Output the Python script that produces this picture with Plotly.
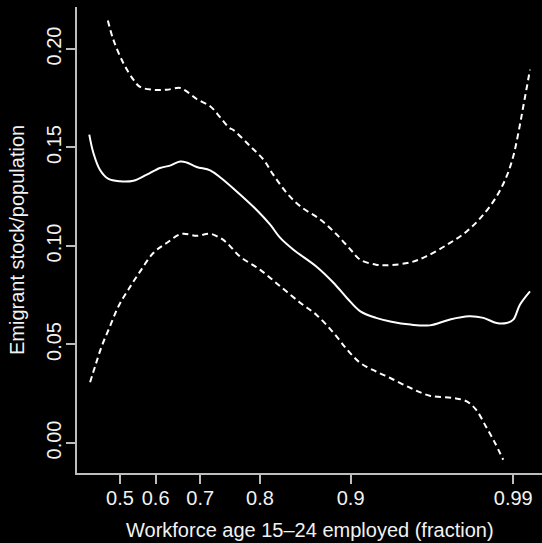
import numpy as np
import plotly.graph_objects as go

# ---- data (fraction employed vs emigrant stock/population) ----
fit_x = [0.396, 0.411, 0.434, 0.463, 0.500, 0.540, 0.577, 0.611, 0.635, 0.658, 0.672,
         0.693, 0.719, 0.737, 0.765, 0.795, 0.814, 0.827, 0.843, 0.868, 0.885, 0.897,
         0.908, 0.920, 0.930, 0.943, 0.954, 0.964, 0.973, 0.979, 0.9841, 0.9877,
         0.9900, 0.9922, 0.9954]
fit_y = [0.1565, 0.1472, 0.1387, 0.1340, 0.1328, 0.1331, 0.1362, 0.1396, 0.1408, 0.1429,
         0.1424, 0.1401, 0.1384, 0.1349, 0.1277, 0.1184, 0.1108, 0.1041, 0.0981, 0.0896,
         0.0812, 0.0735, 0.0668, 0.0635, 0.0617, 0.0601, 0.0597, 0.0626, 0.0643, 0.0635,
         0.0609, 0.0609, 0.0626, 0.0702, 0.0770]

upper_x = [0.461, 0.479, 0.510, 0.540, 0.559, 0.594, 0.627, 0.658, 0.672, 0.693, 0.719,
           0.737, 0.753, 0.759, 0.786, 0.805, 0.818, 0.835, 0.851, 0.872, 0.888, 0.900,
           0.908, 0.920, 0.928, 0.943, 0.952, 0.963, 0.972, 0.979, 0.9841, 0.9877,
           0.9900, 0.9917, 0.9933, 0.9954]
upper_y = [0.2145, 0.2047, 0.1929, 0.1844, 0.1807, 0.1793, 0.1793, 0.1802, 0.1785, 0.1746,
           0.1709, 0.1654, 0.1599, 0.1590, 0.1506, 0.1438, 0.1362, 0.1269, 0.1201, 0.1134,
           0.1057, 0.0981, 0.0930, 0.0905, 0.0902, 0.0917, 0.0947, 0.1007, 0.1074, 0.1159,
           0.1252, 0.1353, 0.1455, 0.1574, 0.1709, 0.1895]

lower_x = [0.399, 0.417, 0.440, 0.468, 0.495, 0.525, 0.559, 0.594, 0.627, 0.661, 0.693,
           0.719, 0.737, 0.748, 0.770, 0.800, 0.827, 0.851, 0.868, 0.885, 0.897, 0.908,
           0.920, 0.930, 0.943, 0.954, 0.966, 0.972, 0.976, 0.980, 0.9835, 0.9865]
lower_y = [0.0308, 0.0389, 0.0490, 0.0592, 0.0693, 0.0778, 0.0871, 0.0964, 0.1015, 0.1061,
           0.1052, 0.1062, 0.1041, 0.1018, 0.0947, 0.0880, 0.0795, 0.0711, 0.0651, 0.0558,
           0.0474, 0.0406, 0.0363, 0.0330, 0.0279, 0.0240, 0.0228, 0.0211, 0.0169, 0.0084,
           0.0000, -0.0085]

x_ticks = [0.5, 0.6, 0.7, 0.8, 0.9, 0.99]
x_tick_labels = ["0.5", "0.6", "0.7", "0.8", "0.9", "0.99"]
y_ticks = [0.00, 0.05, 0.10, 0.15, 0.20]
y_tick_labels = ["0.00", "0.05", "0.10", "0.15", "0.20"]

# axis scale: stretched near 1  (t = -log(c - x))
SCALE_C = 1.05


def tr(v):
    return -np.log(SCALE_C - np.asarray(v, dtype=float))


FONT = "Liberation Sans, Arial, Helvetica, sans-serif"
AXIS_COL = "#bdbdbd"
TXT_COL = "#f2f2f2"

fig = go.Figure()
fig.add_trace(go.Scatter(x=tr(upper_x), y=upper_y, mode="lines", line_shape="spline",
                         line=dict(color="white", width=2, dash="6px,4px"), hoverinfo="skip"))
fig.add_trace(go.Scatter(x=tr(fit_x), y=fit_y, mode="lines", line_shape="spline",
                         line=dict(color="white", width=2), hoverinfo="skip"))
fig.add_trace(go.Scatter(x=tr(lower_x), y=lower_y, mode="lines", line_shape="spline",
                         line=dict(color="white", width=2, dash="6px,4px"), hoverinfo="skip"))

fig.update_layout(
    width=542, height=543,
    margin=dict(l=77, r=0, t=7, b=70),
    paper_bgcolor="black", plot_bgcolor="black",
    showlegend=False,
    font=dict(family=FONT, size=20, color=TXT_COL),
    xaxis=dict(
        range=[0.3555, 2.9753], showgrid=False, zeroline=False,
        showline=True, linecolor=AXIS_COL, linewidth=1.5,
        ticks="outside", ticklen=9, tickcolor=AXIS_COL, tickwidth=1.5,
        tickvals=list(tr(x_ticks)), ticktext=x_tick_labels,
        tickfont=dict(family=FONT, size=20, color=TXT_COL),
        ticklabelstandoff=-3,
    ),
    yaxis=dict(
        range=[-0.01523, 0.2213], showgrid=False, zeroline=False,
        showline=True, linecolor=AXIS_COL, linewidth=1.5,
        ticks="outside", ticklen=9, tickcolor=AXIS_COL, tickwidth=1.5,
        tickvals=y_ticks, ticktext=y_tick_labels, tickangle=-90,
        tickfont=dict(family=FONT, size=20, color=TXT_COL),
        ticklabelstandoff=-3,
    ),
    annotations=[
        dict(text="Workforce age 15\u201324 employed (fraction)", xref="paper", yref="paper",
             x=0.5, y=0, yshift=-57, xanchor="center", yanchor="middle",
             showarrow=False, font=dict(family=FONT, size=20, color=TXT_COL)),
        dict(text="Emigrant stock/population", xref="paper", yref="paper",
             x=0, y=0.5, xshift=-60, xanchor="center", yanchor="middle", textangle=-90,
             showarrow=False, font=dict(family=FONT, size=20, color=TXT_COL)),
    ],
)

fig.write_html("out.html", config={"displayModeBar": False},
               post_script="document.body.style.margin='0';document.body.style.overflow='hidden';")
